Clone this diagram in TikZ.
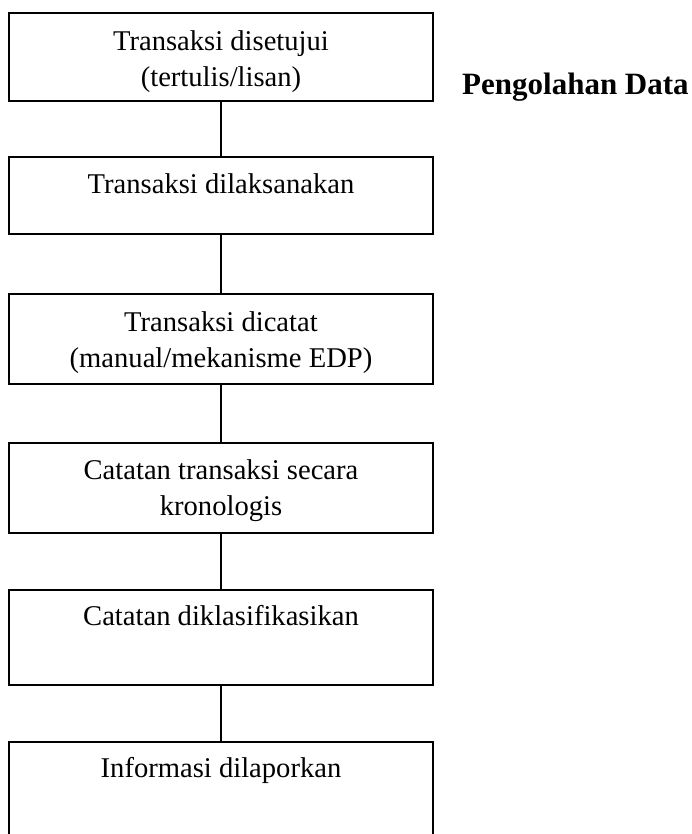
\documentclass[tikz,border=0pt]{standalone}
\usepackage{fontspec}
\setmainfont{Liberation Serif}
\begin{document}
\begin{tikzpicture}[x=1pt,y=-1pt,
  box/.style={draw,line width=1.5pt,minimum width=424pt,inner sep=0pt,outer sep=0pt},
  txt/.style={anchor=base,align=center,inner sep=0pt,font=\fontsize{28.6pt}{36pt}\selectfont},
  link/.style={line width=1.5pt}]
\useasboundingbox (0,0) rectangle (691,834);
\clip (0,0) rectangle (691,834);
\node[box,minimum height=88pt] (b1) at (221,57) {};
\node[box,minimum height=77pt] (b2) at (221,195.5) {};
\node[box,minimum height=90pt] (b3) at (221,339) {};
\node[box,minimum height=90pt] (b4) at (221,488) {};
\node[box,minimum height=95pt] (b5) at (221,637.5) {};
\node[box,minimum height=140pt] (b6) at (221,812) {};
\node[txt] (t1) at (221,87) {Transaksi disetujui\\(tertulis/lisan)};
\node[txt] (t2) at (221,194) {Transaksi dilaksanakan};
\node[txt] (t3) at (221,367) {Transaksi dicatat\\(manual/mekanisme EDP)};
\node[txt] (t4) at (221,515) {Catatan transaksi secara\\kronologis};
\node[txt] (t5) at (221,625) {Catatan diklasifikasikan};
\node[txt] (t6) at (221,777) {Informasi dilaporkan};
\node[anchor=base west,inner sep=0pt,font=\fontsize{31pt}{36pt}\selectfont\bfseries] (title) at (462,95) {Pengolahan Data};
\draw[link] (b1.south) -- (b2.north);
\draw[link] (b2.south) -- (b3.north);
\draw[link] (b3.south) -- (b4.north);
\draw[link] (b4.south) -- (b5.north);
\draw[link] (b5.south) -- (b6.north);
\end{tikzpicture}
\end{document}
